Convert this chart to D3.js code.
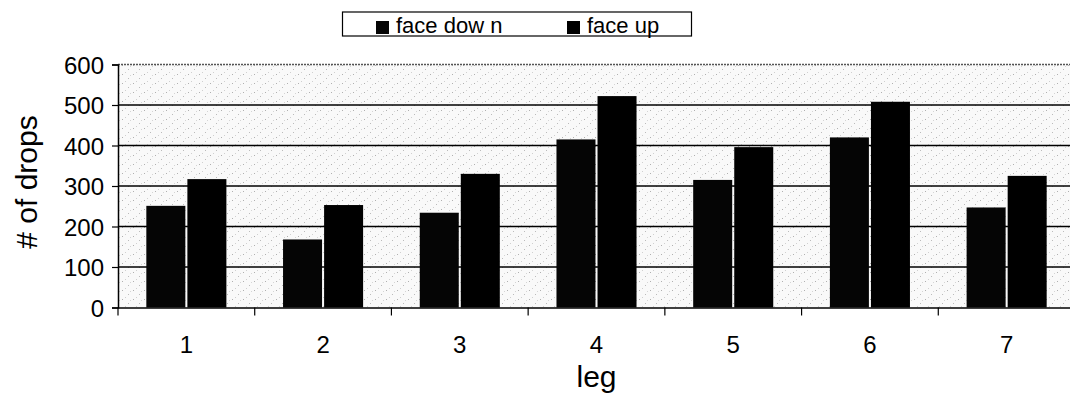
<!DOCTYPE html>
<html>
<head>
<meta charset="utf-8">
<script src="https://cdn.jsdelivr.net/npm/d3@7"></script>
<style>
    body { margin: 0; background: #fff; }
    svg { display: block; font-family: Arial, "Liberation Sans", sans-serif; }
</style>
</head>
<body>
<div id="chart"></div>
<script>
// chart data
const legs = ["1", "2", "3", "4", "5", "6", "7"];
const seriesNames = ["face dow n", "face up"];
const faceDown = [251, 168, 234, 415, 315, 420, 247];
const faceUp = [317, 253, 330, 522, 396, 508, 325];
const yTicks = [0, 100, 200, 300, 400, 500, 600];

const width = 1070, height = 394;
const margin = {top: 64.5, left: 118, bottom: 86.5};
const plotRight = 1075; // plot area runs a bit past the picture edge

const svg = d3.select("#chart").append("svg")
    .attr("width", width)
    .attr("height", height);

// light speckled background like the scanned original
const defs = svg.append("defs");
const pat = defs.append("pattern")
    .attr("id", "speckle")
    .attr("width", 11)
    .attr("height", 9)
    .attr("patternUnits", "userSpaceOnUse");
pat.append("rect").attr("width", 11).attr("height", 9).attr("fill", "#f9f9f9");
pat.append("rect").attr("x", 1).attr("y", 2).attr("width", 1).attr("height", 1).attr("fill", "#b0b0b0");
pat.append("rect").attr("x", 7).attr("y", 6).attr("width", 1).attr("height", 1).attr("fill", "#bbb");
pat.append("rect").attr("x", 4).attr("y", 0).attr("width", 1).attr("height", 1).attr("fill", "#d0d0d0");
pat.append("rect").attr("x", 9).attr("y", 3).attr("width", 1).attr("height", 1).attr("fill", "#d5d5d5");

const x = d3.scaleBand()
    .domain(legs)
    .range([margin.left, plotRight])
    .paddingInner(0)
    .paddingOuter(0);

// Excel style gap width: two ~39px bars per 137px category
const xSub = d3.scaleBand()
    .domain(seriesNames)
    .range([0, x.bandwidth()])
    .paddingInner(0.05)
    .paddingOuter(0.69);

const y = d3.scaleLinear()
    .domain([0, 600])
    .range([height - margin.bottom, margin.top]);

svg.append("rect")
    .attr("x", margin.left)
    .attr("y", y(600))
    .attr("width", plotRight - margin.left)
    .attr("height", y(0) - y(600))
    .attr("fill", "url(#speckle)");

// gridlines
svg.append("g")
    .selectAll("line")
    .data(yTicks.filter(d => d > 0 && d < 600))
    .enter().append("line")
    .attr("x1", margin.left)
    .attr("x2", plotRight)
    .attr("y1", d => y(d))
    .attr("y2", d => y(d))
    .style("stroke", "#000")
    .style("stroke-width", 1.6);

// top border (dotted in the scan)
svg.append("line")
    .attr("x1", margin.left)
    .attr("x2", plotRight)
    .attr("y1", y(600))
    .attr("y2", y(600))
    .style("stroke", "#555")
    .style("stroke-width", 1.4)
    .style("stroke-dasharray", "2,1");

// bars
const rows = legs.map((leg, i) => ({leg, values: [faceDown[i], faceUp[i]]}));
const colors = {"face dow n": "#050505", "face up": "#000"};

svg.append("g")
    .selectAll("g")
    .data(rows)
    .enter().append("g")
    .attr("transform", d => `translate(${x(d.leg)},0)`)
    .selectAll("rect")
    .data(d => d.values.map((v, j) => ({name: seriesNames[j], value: v})))
    .enter().append("rect")
    .attr("x", d => xSub(d.name))
    .attr("width", xSub.bandwidth())
    .attr("y", d => y(d.value))
    .attr("height", d => y(0) - y(d.value))
    .attr("fill", d => colors[d.name]);

// y axis
const yAxis = svg.append("g")
    .attr("transform", `translate(${margin.left},0)`)
    .call(d3.axisLeft(y).tickValues(yTicks).tickSize(6).tickPadding(8));
yAxis.select(".domain").style("stroke", "#000").style("stroke-width", 1.5);
yAxis.selectAll(".tick line").style("stroke", "#000").style("stroke-width", 1.2);
yAxis.selectAll(".tick text")
    .style("font-size", "24px")
    .style("fill", "#000")
    .attr("dy", "0.36em");

// x axis
const xAxis = svg.append("g")
    .attr("transform", `translate(0,${y(0)})`)
    .call(d3.axisBottom(x).tickSize(0).tickPadding(28));
xAxis.select(".domain").style("stroke", "#000").style("stroke-width", 1.6);
xAxis.selectAll(".tick text")
    .style("font-size", "24px")
    .style("fill", "#000");

// category boundary ticks
svg.append("g")
    .selectAll("line")
    .data(legs)
    .enter().append("line")
    .attr("x1", d => x(d))
    .attr("x2", d => x(d))
    .attr("y1", y(0))
    .attr("y2", y(0) + 8)
    .style("stroke", "#000")
    .style("stroke-width", 1.2);

// axis titles
svg.append("text")
    .attr("x", (margin.left + plotRight) / 2)
    .attr("y", 387)
    .attr("text-anchor", "middle")
    .style("font-size", "30px")
    .text("leg");

svg.append("text")
    .attr("transform", "translate(37,182) rotate(-90)")
    .attr("text-anchor", "middle")
    .style("font-size", "30px")
    .text("# of drops");

// legend
const legend = svg.append("g");
legend.append("rect")
    .attr("x", 342.5)
    .attr("y", 12)
    .attr("width", 349)
    .attr("height", 24)
    .attr("fill", "#fff")
    .style("stroke", "#000")
    .style("stroke-width", 1.2);

const legendX = [376, 567];
seriesNames.forEach((name, i) => {
    legend.append("rect")
        .attr("x", legendX[i])
        .attr("y", 21)
        .attr("width", 13)
        .attr("height", 13)
        .attr("fill", colors[name]);
    legend.append("text")
        .attr("x", legendX[i] + 20)
        .attr("y", 33)
        .style("font-size", "22px")
        .text(name);
});
</script>
</body>
</html>
